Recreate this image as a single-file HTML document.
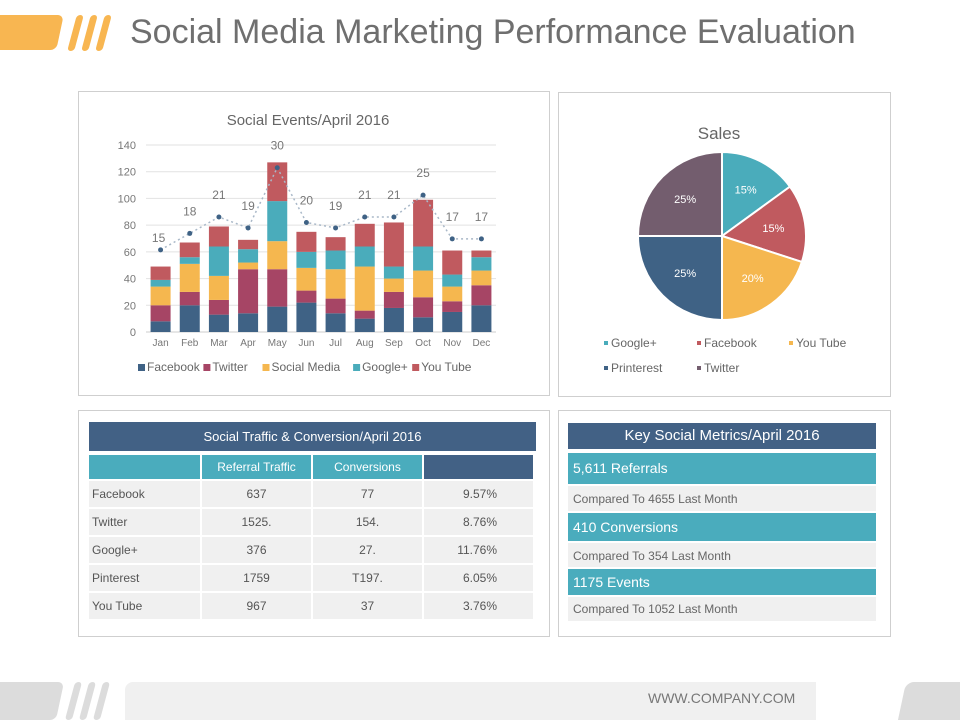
<!DOCTYPE html>
<html><head><meta charset="utf-8"><style>
body{margin:0;width:960px;height:720px;background:#fff;font-family:"Liberation Sans",sans-serif;position:relative;overflow:hidden}
.abs{position:absolute}
.panel{position:absolute;border:1px solid #cfcfcf;background:#fff;box-sizing:border-box}
table{border-collapse:separate;border-spacing:2px;font-size:12px;color:#555}
td{padding:0}
td:first-child{padding-left:3px}
.mrow{position:absolute;left:568px;width:308px;box-sizing:border-box;padding-left:5px}
</style></head><body>
<div class="abs" style="left:-10px;top:15px;width:70px;height:35px;background:#f8b651;border-radius:0 6px 6px 0;transform:skewX(-12deg)"></div>
<div class="abs" style="left:68px;top:15px;width:50px;height:36px">
<div class="abs" style="left:4px;top:0;width:7px;height:36px;background:#f8b651;border-radius:4px;transform:skewX(-15deg)"></div>
<div class="abs" style="left:18px;top:0;width:7px;height:36px;background:#f8b651;border-radius:4px;transform:skewX(-15deg)"></div>
<div class="abs" style="left:32px;top:0;width:7px;height:36px;background:#f8b651;border-radius:4px;transform:skewX(-15deg)"></div>
</div>
<div class="abs" style="left:130px;top:13px;font-size:34px;color:#6f6f6f">Social Media Marketing Performance Evaluation</div>

<div class="panel" style="left:78px;top:91px;width:472px;height:305px"></div>
<div class="panel" style="left:558px;top:92px;width:333px;height:305px"></div>
<div class="panel" style="left:78px;top:410px;width:472px;height:227px"></div>
<div class="panel" style="left:558px;top:410px;width:333px;height:227px"></div>

<svg class="abs" style="left:0;top:0" width="960" height="720" id="chart">
<text x="308" y="125" text-anchor="middle" font-size="15" fill="#666">Social Events/April 2016</text>
</svg>

<div class="abs" style="left:89px;top:422px;width:447px;height:29px;background:#426185;color:#fff;font-size:13px;text-align:center;line-height:29px">Social Traffic &amp; Conversion/April 2016</div>
<div class="abs" style="left:87px;top:453px">
<table>
<tr style="height:24px;color:#fff"><td style="width:108px;background:#4aacbd"></td><td style="width:109px;background:#4aacbd;text-align:center">Referral Traffic</td><td style="width:109px;background:#4aacbd;text-align:center">Conversions</td><td style="width:109px;background:#426185"></td></tr>
<tr style="height:26px"><td style="background:#f0f0f0">Facebook</td><td align="center" style="background:#f0f0f0">637</td><td align="center" style="background:#f0f0f0">77</td><td align="right" style="background:#f0f0f0;padding-right:36px">9.57%</td></tr>
<tr style="height:26px"><td style="background:#f0f0f0">Twitter</td><td align="center" style="background:#f0f0f0">1525.</td><td align="center" style="background:#f0f0f0">154.</td><td align="right" style="background:#f0f0f0;padding-right:36px">8.76%</td></tr>
<tr style="height:26px"><td style="background:#f0f0f0">Google+</td><td align="center" style="background:#f0f0f0">376</td><td align="center" style="background:#f0f0f0">27.</td><td align="right" style="background:#f0f0f0;padding-right:36px">11.76%</td></tr>
<tr style="height:26px"><td style="background:#f0f0f0">Pinterest</td><td align="center" style="background:#f0f0f0">1759</td><td align="center" style="background:#f0f0f0">T197.</td><td align="right" style="background:#f0f0f0;padding-right:36px">6.05%</td></tr>
<tr style="height:26px"><td style="background:#f0f0f0">You Tube</td><td align="center" style="background:#f0f0f0">967</td><td align="center" style="background:#f0f0f0">37</td><td align="right" style="background:#f0f0f0;padding-right:36px">3.76%</td></tr>
</table></div>

<div class="mrow" style="top:423px;height:26px;background:#426185;color:#fff;font-size:15px;text-align:center;line-height:26px;padding:0">Key Social Metrics/April 2016</div>
<div class="mrow" style="top:453px;height:31px;background:#4aacbd;color:#fff;font-size:14px;line-height:31px">5,611 Referrals</div>
<div class="mrow" style="top:486px;height:25px;background:#f0f0f0;color:#666;font-size:12px;line-height:27px">Compared To 4655 Last Month</div>
<div class="mrow" style="top:513px;height:28px;background:#4aacbd;color:#fff;font-size:14px;line-height:28px">410 Conversions</div>
<div class="mrow" style="top:543px;height:24px;background:#f0f0f0;color:#666;font-size:12px;line-height:26px">Compared To 354 Last Month</div>
<div class="mrow" style="top:569px;height:26px;background:#4aacbd;color:#fff;font-size:14px;line-height:26px">1175 Events</div>
<div class="mrow" style="top:597px;height:24px;background:#f0f0f0;color:#666;font-size:12px;line-height:24px">Compared To 1052 Last Month</div>

<div class="abs" style="left:-10px;top:682px;width:70px;height:38px;background:#dcdcdc;border-radius:0 6px 6px 0;transform:skewX(-12deg)"></div>
<div class="abs" style="left:66px;top:682px;width:50px;height:38px">
<div class="abs" style="left:4px;top:0;width:7px;height:38px;background:#dcdcdc;border-radius:4px;transform:skewX(-15deg)"></div>
<div class="abs" style="left:18px;top:0;width:7px;height:38px;background:#dcdcdc;border-radius:4px;transform:skewX(-15deg)"></div>
<div class="abs" style="left:32px;top:0;width:7px;height:38px;background:#dcdcdc;border-radius:4px;transform:skewX(-15deg)"></div>
</div>
<div class="abs" style="left:125px;top:682px;width:691px;height:38px;background:#f0f0f0;border-radius:8px 0 0 0"></div>
<div class="abs" style="left:648px;top:690px;font-size:14px;color:#777">WWW.COMPANY.COM</div>
<div class="abs" style="left:902px;top:682px;width:80px;height:38px;background:#dcdcdc;border-radius:8px 0 0 0;transform:skewX(-12deg)"></div>

<script>
const months=["Jan","Feb","Mar","Apr","May","Jun","Jul","Aug","Sep","Oct","Nov","Dec"];
const facebook=[8,20,13,14,19,22,14,10,18,11,15,20];
const twitter=[12,10,11,33,28,9,11,6,12,15,8,15];
const socialMedia=[14,21,18,5,21,17,22,33,10,20,11,11];
const googlePlus=[5,5,22,10,30,12,14,15,9,18,9,10];
const youTube=[10,11,15,7,29,15,10,17,33,35,18,5];
const lineValues=[15,18,21,19,30,20,19,21,21,25,17,17];
const yTicks=[0,20,40,60,80,100,120,140];
const seriesNames=["Facebook","Twitter","Social Media","Google+","You Tube"];
const seriesColors=["#3f6285","#a64565","#f5b74f","#4aacbb","#c05a5f"];
const pieLabels=["Google+","Facebook","You Tube","Printerest","Twitter"];
const pieValues=[15,15,20,25,25];
const pieColors=["#4aacbb","#c05a5f","#f5b74f","#3f6285","#735d6e"];

const NS="http://www.w3.org/2000/svg";
const svg=document.getElementById('chart');
function mk(tag,attrs,txt){const e=document.createElementNS(NS,tag);for(const k in attrs)e.setAttribute(k,attrs[k]);if(txt!==undefined)e.textContent=txt;svg.appendChild(e);return e;}
const x0=146,x1=496,yB=332,yT=145;
function ys(v){return yB-(v/140)*(yB-yT);}
const step=(x1-x0)/months.length;
function xc(i){return x0+step*(i+0.5);}
yTicks.forEach(t=>{
  const l=mk('line',{x1:x0,x2:x1,y1:ys(t),y2:ys(t),stroke:t===0?'#ccc':'#e2e2e2'});
  
  const tx=mk('text',{x:136,y:ys(t)+4,'text-anchor':'end','font-size':11,fill:'#777'},t);
  
});
const series=[facebook,twitter,socialMedia,googlePlus,youTube];
months.forEach((m,i)=>{
  let cum=0;
  series.forEach((s,k)=>{
    const r=mk('rect',{x:xc(i)-10,width:20,y:ys(cum+s[i]),height:ys(cum)-ys(cum+s[i]),fill:seriesColors[k]});
    
    cum+=s[i];
  });
  const tx=mk('text',{x:xc(i),y:346,'text-anchor':'middle','font-size':10,fill:'#777'},m);
  
});
const lineScale=4.1;
const pts=lineValues.map((v,i)=>[xc(i),ys(v*lineScale)]);
const pl=mk('polyline',{points:pts.map(p=>p.join(',')).join(' '),fill:'none',stroke:'#a9b8c8','stroke-width':1.5,'stroke-dasharray':'2,3'});

pts.forEach((p,i)=>{
  const c=mk('circle',{cx:p[0],cy:p[1],r:2.5,fill:'#3f6285'});
  
  const t=mk('text',{x:p[0]-(i===0?2:0),y:p[1]-(i===0?8:18),'text-anchor':'middle','font-size':12,fill:'#777'},lineValues[i]);
  
});
let lx=138;
seriesNames.forEach((n,k)=>{
  const r=mk('rect',{x:lx,y:364,width:7,height:7,fill:seriesColors[k]});
  
  const t=mk('text',{x:lx+9,y:371,'font-size':12,fill:'#666'},n);
  
  lx+=9+n.length*6.3+6;
});
const pt=mk('text',{x:719,y:139,'text-anchor':'middle','font-size':17,fill:'#666'},'Sales');

const cx=722,cy=236,R=84;
const total=pieValues.reduce((a,b)=>a+b,0);
let ang=-Math.PI/2;
pieValues.forEach((v,i)=>{
  const a2=ang+v/total*2*Math.PI;
  const p=mk('path',{d:`M${cx},${cy} L${cx+R*Math.cos(ang)},${cy+R*Math.sin(ang)} A${R},${R} 0 ${a2-ang>Math.PI?1:0} 1 ${cx+R*Math.cos(a2)},${cy+R*Math.sin(a2)} Z`,fill:pieColors[i],stroke:'#fff','stroke-width':2});
  
  const m=(ang+a2)/2;
  const t=mk('text',{x:cx+R*0.62*Math.cos(m),y:cy+R*0.62*Math.sin(m)+4,'text-anchor':'middle','font-size':11,fill:'#fff'},v+'%');
  
  ang=a2;
});
const legPos=[[604,346],[697,346],[789,346],[604,371],[697,371]];
pieLabels.forEach((n,i)=>{
  const r=mk('rect',{x:legPos[i][0],y:legPos[i][1]-5,width:4,height:4,fill:pieColors[i]});
  
  const t=mk('text',{x:legPos[i][0]+7,y:legPos[i][1]+1,'font-size':12,fill:'#666'},n);
  
});
</script>
</body></html>
